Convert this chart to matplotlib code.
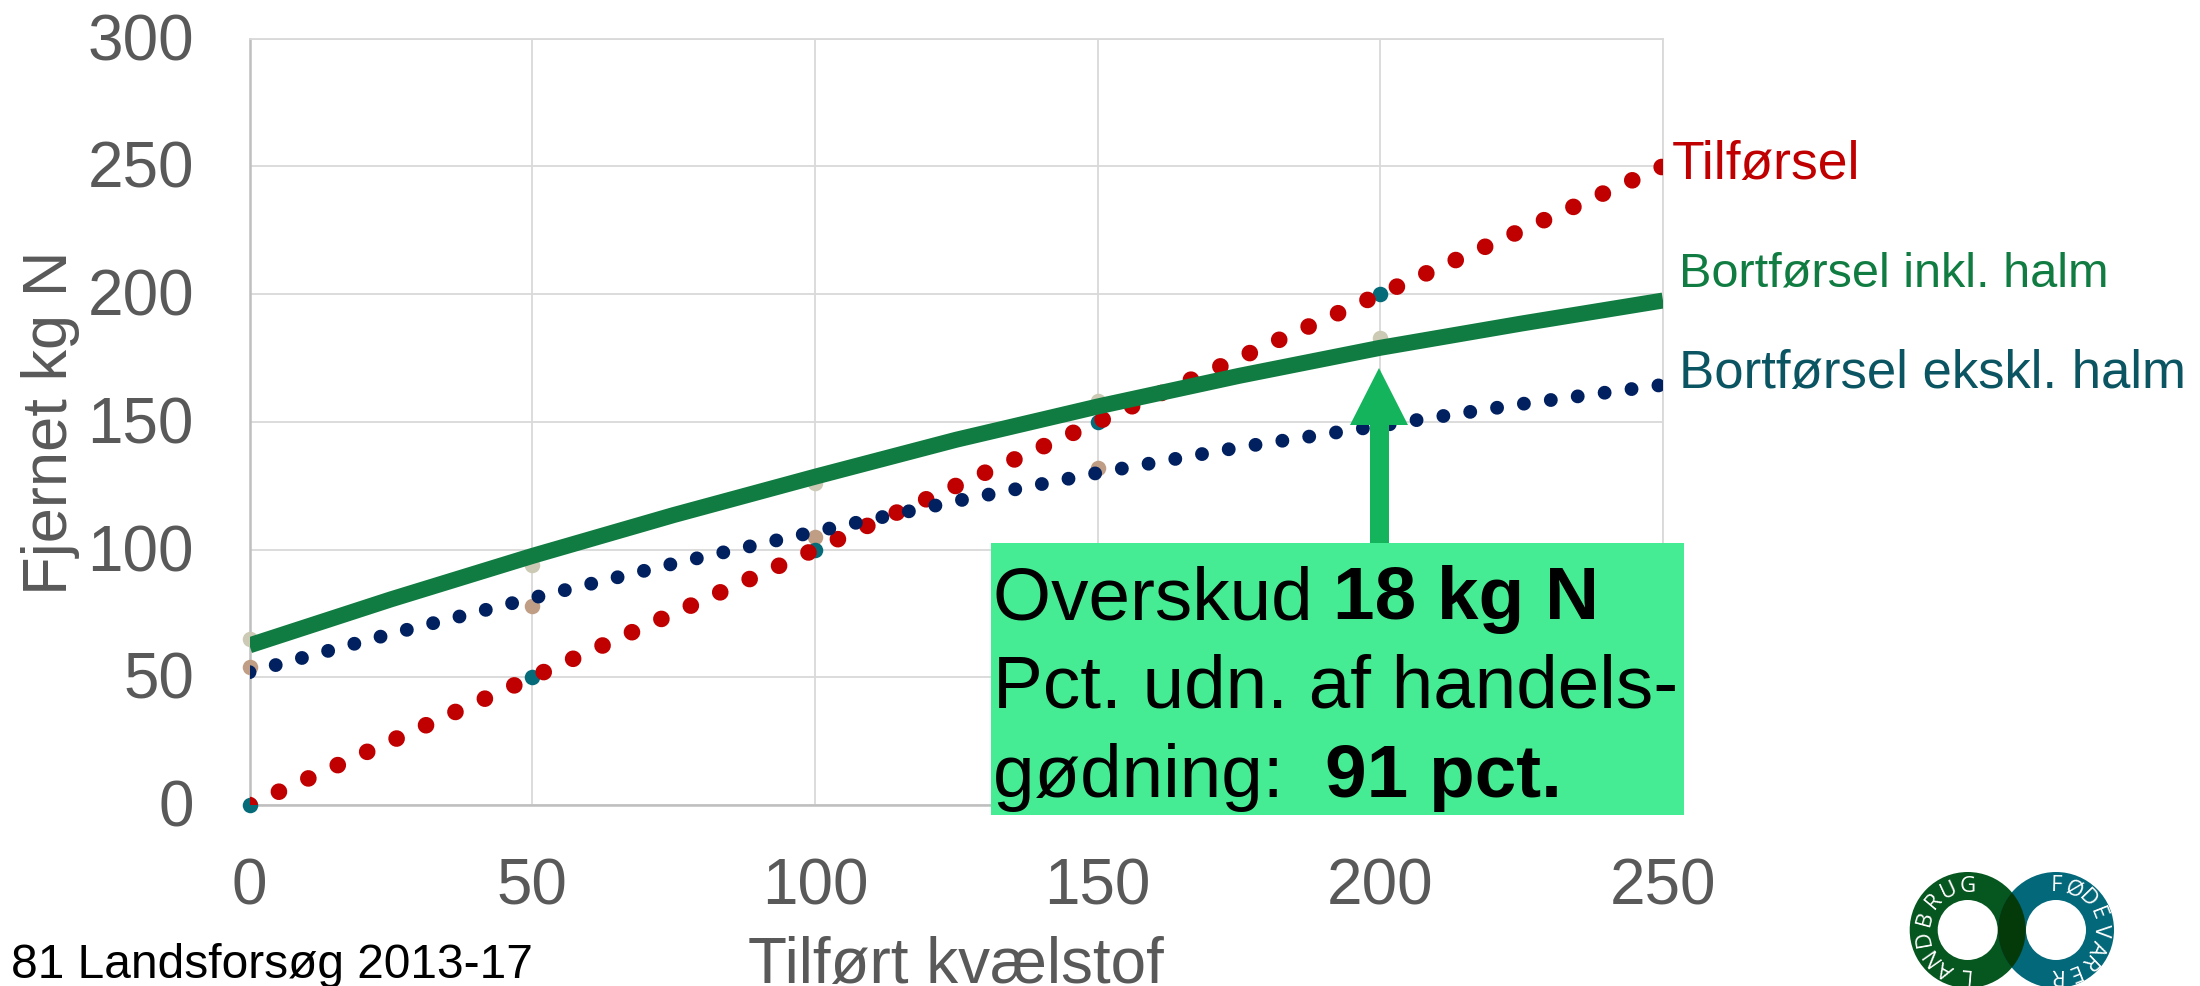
import numpy as np
import matplotlib
matplotlib.use("Agg")
import matplotlib.pyplot as plt
from matplotlib.patches import Circle, Rectangle, Polygon
from matplotlib.transforms import ScaledTranslation

plt.rcParams["font.family"] = ["Liberation Sans", "DejaVu Sans"]

# ----------------------------
# DATA
# ----------------------------
x_curve = [0, 25, 50, 75, 100, 125, 150, 175, 200, 225, 250]
bortfoersel_inkl = [62.5, 80.5, 97.5, 113.5, 128.5, 143, 156, 168, 179, 188.5, 197.5]
bortfoersel_ekskl = [52, 67, 81, 94.5, 107, 119, 130, 140, 148.5, 157, 164.5]
x_line = [0, 250]
tilfoersel = [0, 250]

x_obs = [0, 50, 100, 150, 200]
obs_inkl = [65, 94, 126, 158, 183]
obs_ekskl = [54, 78, 105, 132, 149]
obs_tilfoersel = [0, 50, 100, 150, 200]

x_ticks = [0, 50, 100, 150, 200, 250]
y_ticks = [0, 50, 100, 150, 200, 250, 300]

W, H = 2200, 986
GREY = "#595959"
RED = "#C00000"
NAVY = "#002060"
GREEN = "#107C41"

fig = plt.figure(figsize=(22, 9.86), dpi=100)
ax = fig.add_axes([249.5 / W, 1 - 805 / H, (1663 - 249.5) / W, (805 - 38.7) / H])
ax.set_xlim(0, 250)
ax.set_ylim(0, 300)
ax.set_xticks(x_ticks)
ax.set_yticks(y_ticks)
ax.grid(color="#D9D9D9", linewidth=1.3)
ax.set_axisbelow(True)
ax.tick_params(length=0, labelsize=46, labelcolor=GREY)
ax.tick_params(axis="x", pad=38)
ax.tick_params(axis="y", pad=40)
for lab in ax.get_yticklabels():
    lab.set_transform(lab.get_transform() + ScaledTranslation(0, 2 / 100, fig.dpi_scale_trans))
for side in ["top", "right"]:
    ax.spines[side].set_color("#D9D9D9")
    ax.spines[side].set_linewidth(1.3)
for side in ["left", "bottom"]:
    ax.spines[side].set_color("#BFBFBF")
    ax.spines[side].set_linewidth(1.8)

# observed points sit under the trend lines
ax.scatter(x_obs, obs_inkl, s=125, color="#CCC9B4", clip_on=False, zorder=3, linewidths=0)
ax.scatter(x_obs, obs_ekskl, s=125, color="#BF9E85", clip_on=False, zorder=3, linewidths=0)
ax.scatter(x_obs, obs_tilfoersel, s=125, color="#056B78", clip_on=False, zorder=3, linewidths=0)

ax.plot(x_line, tilfoersel, color=RED, linewidth=12, linestyle=(0, (0.001, 1.936)),
        dash_capstyle="round", zorder=4)
ax.plot(x_curve, bortfoersel_ekskl, color=NAVY, linewidth=10, linestyle=(0, (0.001, 1.954)),
        dash_capstyle="round", zorder=4)
ax.plot(x_curve, bortfoersel_inkl, color=GREEN, linewidth=11.5, solid_capstyle="butt", zorder=5)

# overlay in pixel coordinates for callout, labels and logo
ov = fig.add_axes([0, 0, 1, 1], facecolor="none")
ov.set_xlim(0, W)
ov.set_ylim(H, 0)
ov.axis("off")

ov.add_patch(Polygon([(1370, 545), (1370, 425), (1350, 425), (1379, 368), (1408, 425), (1389, 425), (1389, 545)],
                     closed=True, color="#14B45C", linewidth=0))
ov.add_patch(Rectangle((991, 543), 693, 272, color="#45EC93", linewidth=0))

ov.text(1672, 165, "Tilførsel", color=RED, fontsize=38.5, va="center")
ov.text(1679, 274, "Bortførsel inkl. halm", color=GREEN, fontsize=35, va="center")
ov.text(1679, 374, "Bortførsel ekskl. halm", color="#0B5563", fontsize=38, va="center")
ov.text(51, 423, "Fjernet kg N", color=GREY, fontsize=45.5, rotation=90, ha="center", va="center")
ov.text(956, 983, "Tilført kvælstof", color=GREY, fontsize=46, ha="center", va="baseline")
ov.text(11, 978, "81 Landsforsøg 2013-17", color="black", fontsize=34.5, va="baseline")

# callout text, mixed weights on one line
renderer = fig.canvas.get_renderer()


def mixed_line(x, y, parts):
    for s, weight in parts:
        t = ov.text(x, y, s.replace(" ", "\u00a0"), color="black", fontsize=53.8,
                    fontweight=weight, va="baseline")
        x += t.get_window_extent(renderer).width


mixed_line(993, 619, [("Overskud ", "normal"), ("18 kg N", "bold")])
mixed_line(993, 707, [("Pct. udn. af handels-", "normal")])
mixed_line(993, 797, [("gødning:  ", "normal"), ("91 pct.", "bold")])

# logo
left_c, right_c, logo_y = 1967.7, 2056, 930
r_out, r_in, r_txt = 58, 30, 44
ov.add_patch(Circle((left_c, logo_y), r_out, color="#06561F", linewidth=0))
ov.add_patch(Circle((right_c, logo_y), r_out, color="#03687A", linewidth=0))
lens = Circle((left_c, logo_y), r_out, color="#043A0A", linewidth=0)
ov.add_patch(lens)
lens.set_clip_path(Circle((right_c, logo_y), r_out, transform=ov.transData))
ov.add_patch(Circle((left_c, logo_y), r_in, color="white", linewidth=0))
ov.add_patch(Circle((right_c, logo_y), r_in, color="white", linewidth=0))


def ring_text(cx, word, start, step):
    for i, ch in enumerate(word):
        ang = start + i * step
        rad = np.radians(ang)
        ov.text(cx + r_txt * np.sin(rad), logo_y - r_txt * np.cos(rad), ch, color="white",
                fontsize=16, family="Open Sans", rotation=-ang, rotation_mode="anchor",
                ha="center", va="center")


ring_text(left_c, "LANDBRUG", -175, 25)
ring_text(right_c, "FØDEVARER", 1, 22.5)

fig.savefig("out.png", dpi=100)
